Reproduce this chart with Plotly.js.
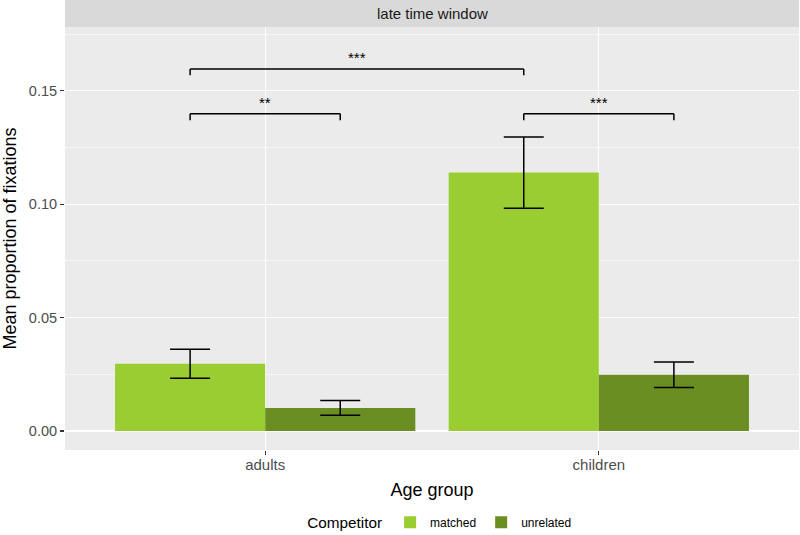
<!DOCTYPE html>
<html>
<head>
<meta charset="utf-8">
<script src="https://cdn.plot.ly/plotly-3.0.1.min.js"></script>
<style>html,body{margin:0;padding:0;background:#fff;}#chart{width:800px;height:535px;}</style>
</head>
<body>
<div id="chart"></div>
<script>
// ---- data ----
var ageGroups = ["adults", "children"];
var competitors = ["matched", "unrelated"];
var matchedMean = [0.0297, 0.1140];
var matchedSE = [0.0064, 0.0157];
var unrelatedMean = [0.0102, 0.0248];
var unrelatedSE = [0.0033, 0.0056];
var colors = ["#9ACD32", "#6B8E23"];
var facetLabel = "late time window";
// significance comparisons: [group index, competitor index] for start and end
var sigStartGroup = [0, 0, 1];
var sigStartComp = [0, 0, 0];
var sigEndGroup = [0, 1, 1];
var sigEndComp = [1, 0, 1];
var sigY = [0.1399, 0.1597, 0.1399];
var sigLabels = ["**", "***", "***"];

// ---- layout helpers ----
var dodge = 0.225; // half of the dodged bar width (0.9/2/2)
function compX(g, c) { return g + (c === 0 ? -dodge : dodge); }
var tickDrop = 0.0028;
var font = "Liberation Sans, Arial, sans-serif";

var traces = [
  {type: "bar", name: competitors[0], x: ageGroups, y: matchedMean,
   marker: {color: colors[0]},
   error_y: {type: "data", array: matchedSE, visible: true, color: "#000", thickness: 1.5, width: 20}},
  {type: "bar", name: competitors[1], x: ageGroups, y: unrelatedMean,
   marker: {color: colors[1]},
   error_y: {type: "data", array: unrelatedSE, visible: true, color: "#000", thickness: 1.5, width: 20}}
];

var shapes = [];
var annotations = [];
// facet strip
shapes.push({type: "rect", xref: "paper", yref: "paper", x0: 0, x1: 1, y0: 1.0, y1: 1 + 27/423,
  fillcolor: "#D9D9D9", line: {width: 0}, layer: "below"});
annotations.push({xref: "paper", yref: "paper", x: 0.5, y: 1 + 13.5/423, text: facetLabel,
  showarrow: false, xanchor: "center", yanchor: "middle",
  font: {family: font, size: 15, color: "#1A1A1A"}});

for (var i = 0; i < sigLabels.length; i++) {
  var xa = compX(sigStartGroup[i], sigStartComp[i]);
  var xb = compX(sigEndGroup[i], sigEndComp[i]);
  var yy = sigY[i];
  var lineStyle = {color: "#000", width: 1.5};
  shapes.push({type: "line", xref: "x", yref: "y", x0: xa, x1: xb, y0: yy, y1: yy, line: lineStyle});
  shapes.push({type: "line", xref: "x", yref: "y", x0: xa, x1: xa, y0: yy, y1: yy - tickDrop, line: lineStyle});
  shapes.push({type: "line", xref: "x", yref: "y", x0: xb, x1: xb, y0: yy, y1: yy - tickDrop, line: lineStyle});
  annotations.push({xref: "x", yref: "y", x: (xa + xb) / 2, y: yy, yshift: 11, text: sigLabels[i],
    showarrow: false, xanchor: "center", yanchor: "middle",
    font: {family: font, size: 15, color: "#000"}});
}

var layout = {
  width: 800, height: 535,
  margin: {l: 65, r: 1, t: 27, b: 85, autoexpand: false},
  paper_bgcolor: "#FFFFFF",
  plot_bgcolor: "#EBEBEB",
  barmode: "group",
  bargap: 0.1,
  bargroupgap: 0,
  showlegend: true,
  font: {family: font, color: "#1A1A1A"},
  xaxis: {
    type: "category",
    range: [-0.6, 1.6],
    automargin: false,
    showgrid: true, gridcolor: "#FFFFFF", gridwidth: 1.1,
    zeroline: false, showline: false,
    ticks: "outside", ticklen: 4, tickcolor: "#333333", tickwidth: 1.1,
    ticklabelstandoff: -3,
    tickfont: {family: font, size: 15, color: "#4D4D4D"},
    title: {text: "Age group", font: {family: font, size: 18, color: "#000"}, standoff: 11}
  },
  yaxis: {
    range: [-0.00838, 0.1782],
    automargin: false,
    tickvals: [0, 0.05, 0.10, 0.15],
    ticktext: ["0.00", "0.05", "0.10", "0.15"],
    showgrid: true, gridcolor: "#FFFFFF", gridwidth: 1.1,
    minor: {tickvals: [0.025, 0.075, 0.125, 0.175], showgrid: true, gridcolor: "#FFFFFF", gridwidth: 0.55, ticks: ""},
    zeroline: false, showline: false,
    ticks: "outside", ticklen: 4, tickcolor: "#333333", tickwidth: 1.1,
    tickfont: {family: font, size: 14.5, color: "#4D4D4D"},
    title: {text: "Mean proportion of fixations", font: {family: font, size: 18, color: "#000"}, standoff: 8}
  },
  legend: {
    orientation: "h", x: 0.512, xanchor: "center", y: -0.172, yanchor: "middle",
    title: {text: "Competitor", font: {family: font, size: 15.3, color: "#000"}, side: "left"},
    font: {family: font, size: 12, color: "#000"},
    itemwidth: 30, bgcolor: "rgba(0,0,0,0)"
  },
  shapes: shapes,
  annotations: annotations
};

Plotly.newPlot("chart", traces, layout, {displayModeBar: false, staticPlot: true});
</script>
</body>
</html>
